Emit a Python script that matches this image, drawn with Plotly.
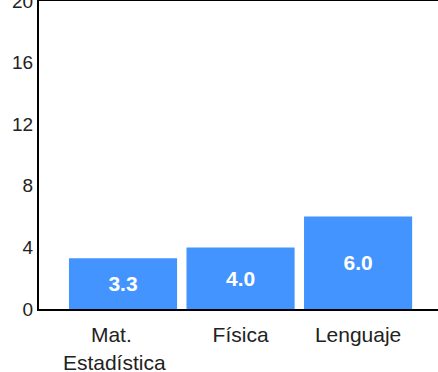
import plotly.graph_objects as go

categorias = ["Mat.\u00a0\u00a0\u00a0\u00a0<br>Estadística\u00a0\u00a0\u00a0", "Física", "Lenguaje"]
valores = [3.3, 4.0, 6.0]
etiquetas = ["3.3", "4.0", "6.0"]
ticks_y = [0, 4, 8, 12, 16, 20]

fig = go.Figure(go.Bar(
    x=categorias,
    y=valores,
    text=etiquetas,
    textposition="inside",
    insidetextanchor="middle",
    textangle=0,
    textfont=dict(family="Liberation Sans, Arial", size=21, color="white", weight="bold"),
    marker=dict(color="#4494FF", line=dict(width=0)),
    showlegend=False,
))

fig.update_layout(
    width=438, height=372,
    margin=dict(l=39, r=0, t=1, b=63, autoexpand=False),
    plot_bgcolor="white",
    paper_bgcolor="white",
    bargap=0.08,
    font=dict(family="Liberation Sans, Arial", color="#222"),
)
fig.update_xaxes(
    range=[-0.715, 2.68],
    showline=True, linecolor="black", linewidth=2, mirror=True,
    showgrid=False, ticks="", automargin=False,
    tickfont=dict(size=21),
    ticklabelstandoff=6,
)
fig.update_yaxes(
    range=[0, 20],
    tickvals=ticks_y,
    showline=True, linecolor="black", linewidth=2,
    showgrid=False, zeroline=False, ticks="", automargin=False,
    tickfont=dict(size=19),
    ticklabeloverflow="allow",
)

fig.write_html(
    "out.html",
    config={"displayModeBar": False},
    post_script="document.body.style.margin='0';document.body.style.overflow='hidden';",
)
